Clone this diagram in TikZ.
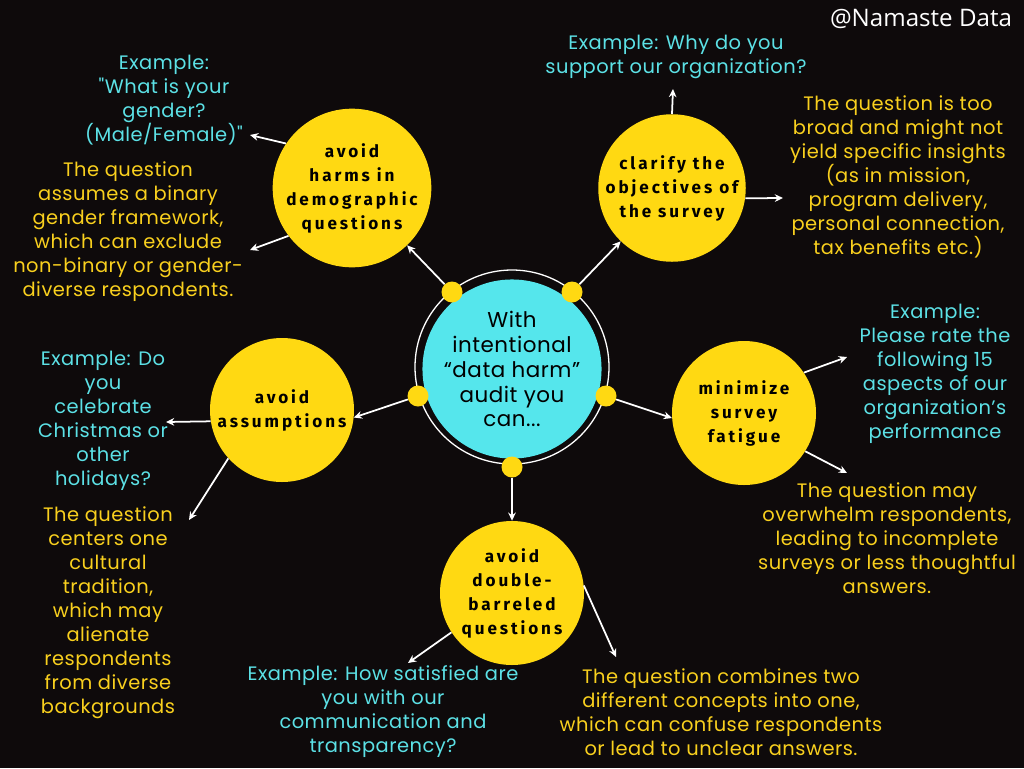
\documentclass[tikz,border=0pt]{standalone}
\usepackage{fontspec}
\setmainfont[LetterSpace=2.5, Ligatures=TeXOff]{Poppins}
\newfontfamily\topicfont[LetterSpace=17]{Fira Sans}
\newfontfamily\brandfont{Open Sans}
\usetikzlibrary{arrows.meta,positioning}

\definecolor{bg}{HTML}{0E0A0B}
\definecolor{sun}{HTML}{FFD912}
\definecolor{gold}{HTML}{F9D01E}
\definecolor{aqua}{HTML}{5CE1E6}
\definecolor{hubfill}{HTML}{55E6EC}

\tikzset{
  hub/.style={circle, fill=hubfill, minimum size=49.2mm, inner sep=0pt, align=center,
    font=\fontsize{18.3}{21.3}\selectfont, text=black},
  topic/.style={circle, fill=sun, minimum size=43.2mm, inner sep=0pt, align=center,
    font=\topicfont\bfseries\fontsize{14.6}{20.5}\selectfont, text=black},
  dot/.style={circle, fill=sun, minimum size=6.3mm, inner sep=0pt},
  example/.style={align=center, text=aqua, inner sep=0pt, font=\fontsize{16.6}{20.5}\selectfont},
  reason/.style={align=center, text=gold, inner sep=0pt, font=\fontsize{16.6}{20.5}\selectfont},
  arr/.style={draw=white, line width=1.5pt, -{Stealth[length=7pt,width=6.5pt]}},
}

\begin{document}
\begin{tikzpicture}[x=0.3mm, y=-0.3mm]
  % background
  \fill[bg] (0,0) rectangle (1024,768);
  \useasboundingbox (0,0) rectangle (1024,768);

  \node[text=white, font=\brandfont\fontsize{20.6}{24}\selectfont] (brand) at (921,19) {@Namaste Data};

  % hub with ring and dots
  \draw[white, line width=1.1pt] (512,367) circle[radius=29.1mm];
  \node[hub] (hub) at (512,369) {With\\intentional\\“data harm”\\audit you\\can...};
  \foreach \n/\x/\y in {dA/452/292, dB/572/292, dC/418/396, dD/606/396, dE/512/467}
    \node[dot] (\n) at (\x,\y) {};

  % topics
  \node[topic] (demo) at (352,188) {avoid\\harms in\\demographic\\questions};
  \node[topic] (clar) at (672,188) {clarify the\\objectives of\\the survey};
  \node[topic] (assume) at (282,410) {avoid\\assumptions};
  \node[topic] (fatigue) at (744,413) {minimize\\survey\\fatigue};
  \node[topic] (double) at (512,593) {avoid\\double-\\barreled\\questions};

  \draw[arr] (dA) -- (demo);
  \draw[arr] (dB) -- (clar);
  \draw[arr] (dC) -- (assume.-6);
  \draw[arr] (dD) -- (fatigue.184);
  \draw[arr] (dE) -- (double.north);

  % examples and reasons
  \node[example] (demoEx) at (164,100) {Example:\\"What is your\\gender?\\(Male/Female)"};
  \node[reason] (demoWhy) at (128,232) {The question\\assumes a binary\\gender framework,\\which can exclude\\non-binary or gender-\\diverse respondents.};
  \node[example] (clarEx) at (676,57) {Example: Why do you\\support our organization?};
  \node[reason] (clarWhy) at (898,177) {The question is too\\broad and might not\\yield specific insights\\(as in mission,\\program delivery,\\personal connection,\\tax benefits etc.)};
  \node[example] (assEx) at (103,421) {Example: Do\\you\\celebrate\\Christmas or\\other\\holidays?};
  \node[reason] (assWhy) at (108,613) {The question\\centers one\\cultural\\tradition,\\which may\\alienate\\respondents\\from diverse\\backgrounds};
  \node[example] (fatEx) at (935,374) {Example:\\Please rate the\\following 15\\aspects of our\\organization’s\\performance};
  \node[reason] (fatWhy) at (887,538) {The question may\\overwhelm respondents,\\leading to incomplete\\surveys or less thoughtful\\answers.};
  \node[example] (dblEx) at (383,712) {Example: How satisfied are\\you with our\\communication and\\transparency?};
  \node[reason] (dblWhy) at (721,712) {The question combines two\\different concepts into one,\\which can confuse respondents\\or lead to unclear answers.};

  % arrow tips
  \coordinate (tA1) at (250,135);
  \coordinate (tA2) at (250,250);
  \coordinate (tB1) at (673,89);
  \coordinate (tB2) at (783,198);
  \coordinate (tC1) at (166,422);
  \coordinate (tC2) at (189,520);
  \coordinate (tD1) at (847,357);
  \coordinate (tD2) at (847,473);
  \coordinate (tE1) at (408,663);
  \coordinate (tE2) at (616,657);

  \draw[arr] (demo.146) -- (tA1);
  \draw[arr] (demo.217) -- (tA2);
  \draw[arr] (clar.north) -- (tB1);
  \draw[arr] (clar.-8) -- (tB2);
  \draw[arr] (assume.189) -- (tC1);
  \draw[arr] (assume.222) -- (tC2);
  \draw[arr] (fatigue.34) -- (tD1);
  \draw[arr] (fatigue.-32) -- (tD2);
  \draw[arr] (double.213) -- (tE1);
  \draw[arr] (double.6) -- (tE2);
\end{tikzpicture}
\end{document}
